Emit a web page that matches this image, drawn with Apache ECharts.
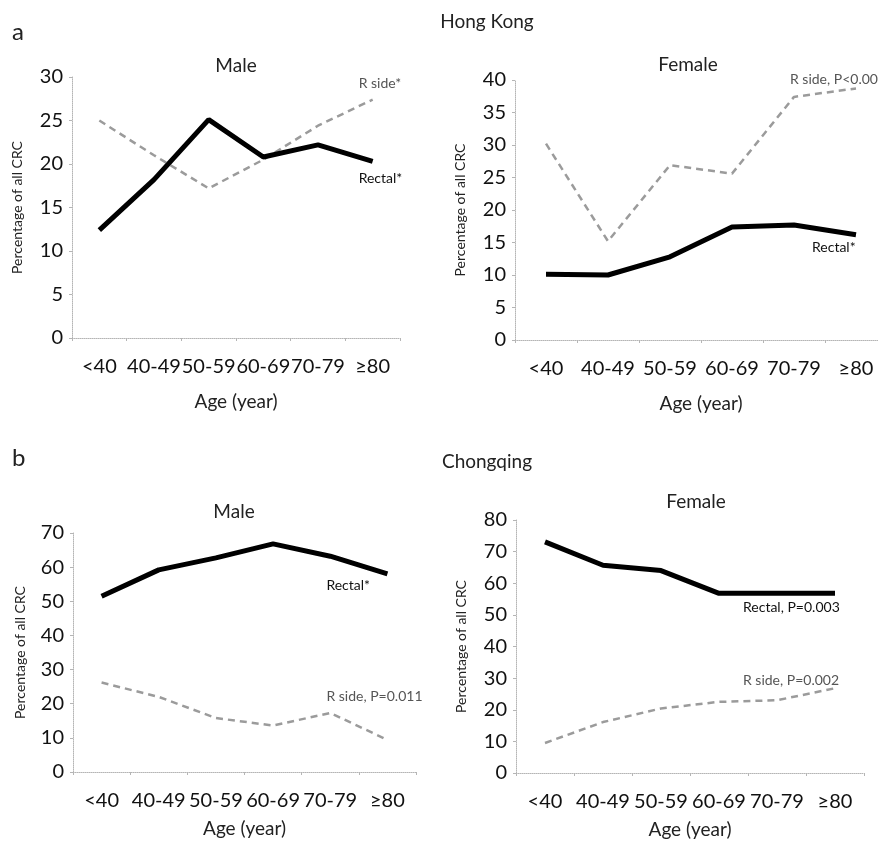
<!DOCTYPE html>
<html>
<head>
<meta charset="utf-8">
<script src="https://cdn.jsdelivr.net/npm/echarts@6/dist/echarts.min.js"></script>
<style>
  html, body { margin: 0; padding: 0; background: #fff; }
  #main { width: 878px; height: 846px; }
</style>
</head>
<body>
<div id="main"></div>
<script>
// age groups on every x axis
let ageGroups = ['<40', '40-49', '50-59', '60-69', '70-79', '≥80'];

// Hong Kong
let hkMaleRectal = [12.4, 18.2, 25.1, 20.8, 22.2, 20.3];
let hkMaleRside = [25.0, 21.0, 17.2, 20.5, 24.4, 27.4];
let hkFemaleRectal = [10.1, 10.0, 12.8, 17.4, 17.7, 16.2];
let hkFemaleRside = [30.2, 15.2, 26.9, 25.6, 37.4, 38.7];

// Chongqing
let cqMaleRectal = [51.5, 59.2, 62.7, 66.8, 63.2, 58.0];
let cqMaleRside = [26.2, 22.0, 15.8, 13.6, 17.3, 9.4];
let cqFemaleRectal = [73.1, 65.7, 64.0, 56.8, 56.8, 56.8];
let cqFemaleRside = [9.5, 16.1, 20.4, 22.5, 23.0, 26.8];

let chart = echarts.init(document.getElementById('main'));

let font = 'Lato, "Open Sans", sans-serif';
let axisGray = '#b5b5b5';

// panel frames (top right one runs off the edge, as in the figure)
let grids = [
    {left: 72, top: 77, width: 328, height: 261},
    {left: 515, top: 80, width: 372, height: 260},
    {left: 73, top: 533, width: 343, height: 239},
    {left: 516, top: 520, width: 348, height: 253}
].map(g => Object.assign(g, {containLabel: false, outerBoundsMode: 'none'}));
let yMax = [30, 40, 70, 80];
let yStep = [5, 5, 10, 10];
let yNameGap = [48, 48, 46, 48];
let xNameGap = [54, 54, 47, 47];

let xAxes = grids.map((g, i) => ({
    type: 'category',
    gridIndex: i,
    data: ageGroups,
    boundaryGap: true,
    name: 'Age (year)',
    nameLocation: 'middle',
    nameGap: xNameGap[i],
    nameTextStyle: {color: '#222', fontSize: 19, fontFamily: font},
    axisLine: {show: true, lineStyle: {color: axisGray, type: 'dotted', width: 1}},
    axisTick: {show: true, length: 3, lineStyle: {color: axisGray}},
    splitLine: {show: false},
    axisLabel: {
        interval: 0,
        margin: 19,
        color: '#111',
        fontSize: 20,
        fontFamily: font
    }
}));

let yAxes = grids.map((g, i) => ({
    type: 'value',
    gridIndex: i,
    min: 0,
    max: yMax[i],
    interval: yStep[i],
    name: 'Percentage of all CRC',
    nameLocation: 'middle',
    nameGap: yNameGap[i],
    nameTextStyle: {color: '#222', fontSize: 14, fontFamily: font},
    axisLine: {show: true, lineStyle: {color: axisGray, type: 'dotted', width: 1}},
    axisTick: {show: true, length: 3, lineStyle: {color: axisGray}},
    splitLine: {show: false},
    axisLabel: {
        margin: 9,
        color: '#111',
        fontSize: 20,
        fontFamily: font
    }
}));

function rectalSeries(idx, data, text, offset) {
    return {
        name: 'Rectal',
        type: 'line',
        xAxisIndex: idx,
        yAxisIndex: idx,
        data: data,
        symbol: 'none',
        smooth: false,
        lineStyle: {color: '#000', width: 5},
        endLabel: {
            show: true,
            formatter: text,
            offset: offset,
            color: '#111',
            fontSize: 14,
            fontFamily: font
        },
        z: 3
    };
}

function rsideSeries(idx, data, text, offset) {
    return {
        name: 'R side',
        type: 'line',
        xAxisIndex: idx,
        yAxisIndex: idx,
        data: data,
        symbol: 'none',
        smooth: false,
        lineStyle: {color: '#9b9b9b', width: 2.5, type: [7, 5]},
        endLabel: {
            show: true,
            formatter: text,
            offset: offset,
            color: '#555',
            fontSize: 14,
            fontFamily: font
        },
        z: 2
    };
}

let option = {
    backgroundColor: '#fff',
    animation: false,
    grid: grids,
    xAxis: xAxes,
    yAxis: yAxes,
    graphic: [
        {type: 'text', left: 12, top: 20, style: {text: 'a', fontSize: 24, fontFamily: font, fill: '#222'}},
        {type: 'text', left: 12, top: 446, style: {text: 'b', fontSize: 24, fontFamily: font, fill: '#222'}},
        {type: 'text', x: 487, y: 22, style: {text: 'Hong Kong', fontSize: 19, fontFamily: font, fill: '#222', align: 'center', verticalAlign: 'middle'}},
        {type: 'text', x: 487, y: 462, style: {text: 'Chongqing', fontSize: 19, fontFamily: font, fill: '#222', align: 'center', verticalAlign: 'middle'}},
        {type: 'text', x: 236, y: 66, style: {text: 'Male', fontSize: 19, fontFamily: font, fill: '#222', align: 'center', verticalAlign: 'middle'}},
        {type: 'text', x: 688, y: 65, style: {text: 'Female', fontSize: 19, fontFamily: font, fill: '#222', align: 'center', verticalAlign: 'middle'}},
        {type: 'text', x: 234, y: 512, style: {text: 'Male', fontSize: 19, fontFamily: font, fill: '#222', align: 'center', verticalAlign: 'middle'}},
        {type: 'text', x: 696, y: 502, style: {text: 'Female', fontSize: 19, fontFamily: font, fill: '#222', align: 'center', verticalAlign: 'middle'}}
    ],
    series: [
        rsideSeries(0, hkMaleRside, 'R side*', [-22, -16]),
        rectalSeries(0, hkMaleRectal, 'Rectal*', [-22, 17]),
        rsideSeries(1, hkFemaleRside, 'R side, P<0.001', [-74, -9]),
        rectalSeries(1, hkFemaleRectal, 'Rectal*', [-52, 13]),
        rsideSeries(2, cqMaleRside, 'R side, P=0.011', [-69, -43]),
        rectalSeries(2, cqMaleRectal, 'Rectal*', [-69, 12]),
        rsideSeries(3, cqFemaleRside, 'R side, P=0.002', [-100, -8]),
        rectalSeries(3, cqFemaleRectal, 'Rectal, P=0.003', [-100, 14])
    ]
};

chart.setOption(option);
</script>
</body>
</html>
